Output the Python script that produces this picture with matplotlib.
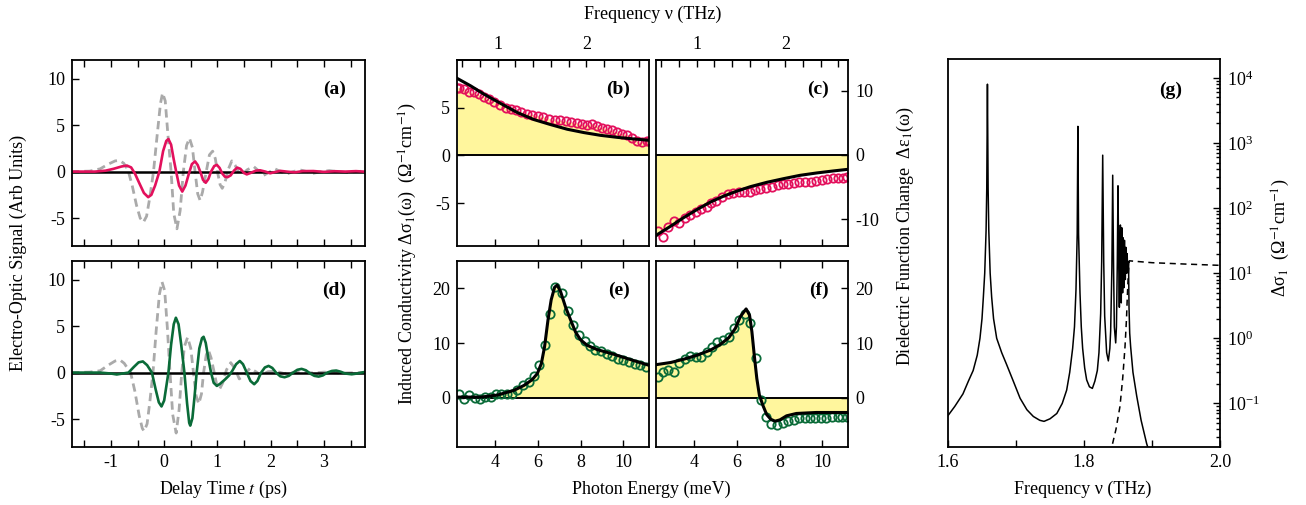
import numpy as np
import matplotlib
matplotlib.use('Agg')
import matplotlib.pyplot as plt
from matplotlib.ticker import MultipleLocator, FixedLocator, NullFormatter, LogLocator, LogFormatterMathtext

plt.rcParams['font.family'] = ['Liberation Serif', 'DejaVu Serif']
plt.rcParams['mathtext.fontset'] = 'stix'
plt.rcParams['axes.unicode_minus'] = False
plt.rcParams['font.size'] = 13

# ---- (a) time traces, panel a
t_a_red = [-1.75, -1.3, -1.1, -0.95, -0.8, -0.7, -0.62, -0.55, -0.47, -0.38, -0.3, -0.24, -0.17, -0.09,
           -0.02, 0.04, 0.08, 0.13, 0.18, 0.225, 0.28, 0.34, 0.4, 0.46, 0.52, 0.58, 0.63, 0.69, 0.73, 0.78,
           0.83, 0.88, 0.94, 0.99, 1.04, 1.09, 1.14, 1.19, 1.25, 1.31, 1.37, 1.43, 1.5, 1.55, 1.62, 1.72,
           1.8, 1.9, 1.99, 2.08, 2.18, 2.3, 2.45, 2.6, 2.8, 3.0, 3.2, 3.4, 3.6, 3.75]
y_a_red = [0, 0.0, 0.1, 0.3, 0.55, 0.65, 0.45, -0.2, -1.2, -2.3, -2.75, -2.5, -1.5, 0.0,
           2.2, 3.3, 3.5, 2.9, 1.3, 0.0, -1.5, -2.15, -1.5, -0.3, 0.8, 1.1, 0.7, -0.2, -0.9, -1.2,
           -0.8, 0.0, 0.6, 0.72, 0.4, -0.2, -0.55, -0.6, -0.4, 0.1, 0.43, 0.3, -0.15, -0.3, -0.15, 0.1,
           0.14, 0.0, -0.18, -0.05, 0.08, 0.0, -0.08, 0.05, 0.06, -0.03, 0.04, 0.0, 0.05, 0.0]

t_a_ref = [-1.75, -1.4, -1.2, -1.05, -0.92, -0.84, -0.76, -0.68, -0.6, -0.52, -0.45, -0.39, -0.33, -0.27,
           -0.2, -0.13, -0.07, -0.03, 0.02, 0.07, 0.13, 0.18, 0.24, 0.3, 0.36, 0.42, 0.475, 0.53, 0.58,
           0.63, 0.675, 0.72, 0.79, 0.85, 0.91, 0.96, 1.0, 1.05, 1.09, 1.14, 1.2, 1.27, 1.33, 1.4, 1.46,
           1.56, 1.68, 1.77, 1.86, 1.96, 2.08, 2.19, 2.3, 2.42, 2.55, 2.68, 2.8, 2.95, 3.1, 3.25, 3.43,
           3.6, 3.75]
y_a_ref = [0, 0.05, 0.3, 0.8, 1.15, 1.2, 0.9, 0.2, -1.5, -3.6, -5.0, -5.45, -4.8, -2.8,
           0.0, 4.0, 7.3, 8.45, 7.6, 4.0, 0.0, -4.5, -6.15, -4.2, 0.0, 2.8, 3.6, 2.6, 0.0,
           -2.4, -3.1, -2.2, 0.0, 1.8, 2.2, 1.4, 0.0, -1.4, -1.8, -1.2, 0.2, 1.15, 0.7, -0.1, -0.3,
           0.2, 0.54, 0.1, -0.43, -0.1, 0.29, 0.0, -0.25, 0.0, 0.18, 0.0, -0.18, 0.0, 0.11, 0.0, -0.1,
           0.0, 0.05]

# ---- (d) time traces
t_d_grn = [-1.75, -1.2, -1.0, -0.89, -0.78, -0.67, -0.57, -0.48, -0.4, -0.32, -0.23, -0.16, -0.1, -0.05,
           0.0, 0.04, 0.08, 0.13, 0.18, 0.22, 0.27, 0.32, 0.38, 0.43, 0.47, 0.49, 0.53, 0.57, 0.61, 0.66,
           0.71, 0.74, 0.78, 0.83, 0.88, 0.93, 0.99, 1.05, 1.14, 1.22, 1.28, 1.35, 1.42, 1.48, 1.55, 1.62,
           1.69, 1.75, 1.82, 1.89, 1.96, 2.03, 2.1, 2.18, 2.26, 2.34, 2.42, 2.5, 2.58, 2.66, 2.74, 2.82,
           2.9, 2.98, 3.06, 3.15, 3.23, 3.31, 3.4, 3.52, 3.62, 3.7, 3.75]
y_d_grn = [0, 0.0, -0.1, -0.2, -0.1, 0.0, 0.6, 1.1, 1.2, 0.8, 0.0, -1.8, -3.2, -3.64,
           -3.0, -1.5, 0.0, 3.0, 5.2, 5.9, 5.2, 3.0, 0.0, -3.3, -5.4, -5.7, -4.9, -2.6, 0.0, 2.6,
           3.7, 3.85, 3.2, 1.5, 0.0, -1.1, -1.43, -1.2, -0.75, -0.3, 0.2, 0.9, 1.25, 0.9, 0.0, -0.9,
           -1.25, -0.9, 0.0, 0.55, 0.72, 0.5, 0.0, -0.4, -0.5, -0.35, 0.0, 0.3, 0.4, 0.25, -0.1, -0.35,
           -0.43, -0.3, 0.0, 0.18, 0.22, 0.1, -0.1, -0.18, -0.1, 0.0, 0.05]

t_d_ref = [-1.75, -1.4, -1.2, -1.05, -0.92, -0.83, -0.75, -0.68, -0.63, -0.55, -0.47, -0.41, -0.375,
           -0.32, -0.27, -0.21, -0.15, -0.09, -0.04, 0.01, 0.06, 0.11, 0.16, 0.225, 0.28, 0.33, 0.38,
           0.44, 0.5, 0.55, 0.6, 0.65, 0.7, 0.74, 0.79, 0.83, 0.88, 0.94, 0.99, 1.04, 1.1, 1.17, 1.25,
           1.33, 1.41, 1.5, 1.61, 1.72, 1.82, 1.95, 2.1, 2.25, 2.4, 2.6, 2.8, 3.0, 3.3, 3.75]
y_d_ref = [0, 0.05, 0.2, 0.8, 1.25, 1.36, 1.0, 0.4, 0.0, -2.0, -4.6, -6.0, -6.3,
           -5.5, -3.2, 0.0, 4.5, 8.4, 9.75, 8.8, 4.8, 0.0, -4.5, -6.5, -4.0, 0.0, 2.8,
           3.8, 2.6, 0.0, -2.5, -3.36, -2.3, 0.0, 1.9, 2.43, 1.6, 0.0, -1.4, -1.78, -1.1, 0.3, 1.07,
           0.4, -0.68, -0.3, 0.47, 0.1, -0.3, 0.1, 0.15, -0.1, 0.0, 0.1, -0.05, 0.05, -0.05, 0.0]

# ---- (b) conductivity, photon energy in meV
E_b_fit = [2.24, 2.86, 3.49, 4.27, 5.05, 5.83, 6.6, 7.38, 8.16, 8.94, 9.72, 10.5, 11.2]
s_b_fit = [8.07, 7.3, 6.42, 5.44, 4.49, 3.75, 3.23, 2.74, 2.39, 2.1, 1.89, 1.72, 1.58]
E_b_dat = [2.24, 2.31, 2.55, 2.78, 3.02, 3.25, 3.49, 3.72, 3.96, 4.24, 4.5, 4.74, 5.0, 5.24, 5.48, 5.75,
           6.01, 6.26, 6.52, 6.79, 7.04, 7.3, 7.54, 7.82, 8.08, 8.32, 8.55, 8.78, 9.02, 9.25, 9.48,
           9.72, 9.95, 10.19, 10.42, 10.65, 10.89, 11.12, 11.2]
s_b_dat = [7.1, 7.09, 6.95, 6.67, 6.6, 6.39, 6.14, 5.9, 5.61, 5.33, 4.98, 4.84, 4.74, 4.56, 4.39, 4.28,
           4.14, 4.04, 3.86, 3.68, 3.68, 3.58, 3.51, 3.4, 3.26, 3.23, 3.33, 3.09, 2.91, 2.81, 2.63,
           2.46, 2.28, 2.18, 1.82, 1.47, 1.4, 1.47, 1.47]

# ---- (c) dielectric change
E_c_fit = [2.23, 2.3, 2.92, 3.54, 4.16, 4.78, 5.4, 6.02, 6.64, 7.41, 8.19, 8.96, 9.74, 10.51, 11.21]
e_c_fit = [-12.6, -12.4, -11.1, -9.74, -8.49, -7.34, -6.41, -5.63, -4.95, -4.27, -3.7, -3.18, -2.81, -2.5, -2.24]
E_c_dat = [2.33, 2.57, 2.79, 3.07, 3.3, 3.57, 3.81, 4.08, 4.31, 4.59, 4.81, 5.05, 5.32, 5.58, 5.83, 6.09,
           6.36, 6.61, 6.87, 7.1, 7.38, 7.64, 7.91, 8.16, 8.42, 8.68, 8.93, 9.19, 9.46, 9.71, 9.97,
           10.2, 10.48, 10.74, 10.97, 11.16]
e_c_dat = [-11.8, -12.8, -11.3, -10.3, -10.6, -9.9, -9.4, -8.86, -8.44, -8.07, -7.45, -7.14, -6.6, -6.1,
           -5.9, -5.73, -5.83, -5.73, -5.47, -5.36, -5.1, -4.95, -4.74, -4.58, -4.53, -4.43, -4.27, -4.17,
           -4.17, -4.06, -3.91, -3.8, -3.65, -3.65, -3.65, -3.49]

# ---- (e) conductivity, second pump
E_e_fit = [2.23, 2.27, 3.33, 4.11, 4.89, 5.36, 5.74, 5.98, 6.17, 6.32, 6.48, 6.63, 6.79, 6.91, 7.07, 7.3,
           7.54, 7.77, 8.0, 8.31, 8.78, 9.56, 10.34, 11.2]
s_e_fit = [0.12, 0.12, 0.12, 0.49, 1.35, 2.26, 3.3, 4.4, 6.24, 9.3, 14.2, 17.9, 20.2, 20.6, 19.4, 16.6,
           14.2, 12.0, 10.6, 9.6, 8.8, 7.95, 6.97, 5.93]
E_e_dat = [2.32, 2.55, 2.79, 3.05, 3.3, 3.56, 3.8, 4.03, 4.3, 4.55, 4.81, 5.04, 5.32, 5.59, 5.82, 6.06,
           6.32, 6.57, 6.83, 7.15, 7.41, 7.66, 7.93, 8.19, 8.44, 8.7, 8.94, 9.22, 9.48, 9.75, 10.0,
           10.26, 10.53, 10.78, 11.04]
s_e_dat = [0.73, -0.3, 0.43, -0.06, -0.3, 0.12, 0.12, 0.6, 0.6, 0.73, 0.6, 1.47, 2.26, 2.87, 3.91, 5.93,
           9.72, 15.4, 20.2, 19.2, 15.9, 13.3, 11.4, 10.4, 9.42, 8.81, 8.56, 8.07, 7.58, 7.16, 6.85,
           6.54, 6.12, 5.93, 5.63]

# ---- (f) dielectric change, second pump
E_f_fit = [2.23, 2.3, 2.92, 3.54, 4.16, 4.78, 5.24, 5.63, 5.94, 6.17, 6.44, 6.6, 6.71, 6.82, 6.94, 7.06,
           7.22, 7.4, 7.59, 7.79, 8.02, 8.33, 8.79, 9.72, 11.2]
e_f_fit = [6.05, 6.09, 6.45, 7.06, 7.8, 8.72, 9.76, 10.98, 12.7, 14.83, 16.24, 15.1, 12.08, 7.8, 3.52,
           0.49, -1.35, -3.06, -3.92, -4.28, -4.04, -3.3, -2.87, -2.69, -2.69]
E_f_dat = [2.33, 2.58, 2.8, 3.05, 3.31, 3.57, 3.82, 4.08, 4.31, 4.59, 4.85, 5.08, 5.36, 5.62, 5.86, 6.13,
           6.4, 6.63, 6.91, 7.12, 7.37, 7.59, 7.86, 8.14, 8.4, 8.66, 8.91, 9.17, 9.43, 9.68, 9.94,
           10.17, 10.45, 10.71, 10.94, 11.17]
e_f_dat = [3.82, 4.62, 4.99, 4.74, 6.27, 7.06, 7.68, 7.43, 7.49, 8.29, 9.2, 10.12, 10.55, 11.16, 12.69,
           14.2, 15.3, 13.6, 7.19, -0.43, -3.49, -4.71, -4.89, -4.53, -4.22, -4.1, -3.79, -3.79, -3.79,
           -3.67, -3.67, -3.67, -3.49, -3.49, -3.49, -3.49]

# ---- (g) model spectrum, log scale
nu_g = [1.6, 1.61, 1.622, 1.63, 1.637, 1.643, 1.647, 1.65, 1.652, 1.654, 1.656, 1.657, 1.658, 1.659,
        1.66, 1.662, 1.6642, 1.667, 1.6716, 1.679, 1.686, 1.696, 1.706, 1.716, 1.7255, 1.735, 1.7412,
        1.75, 1.76, 1.768, 1.7745, 1.779, 1.7833, 1.786, 1.7882, 1.79, 1.791, 1.792, 1.7941, 1.796,
        1.798, 1.801, 1.8039, 1.808, 1.8123, 1.816, 1.8196, 1.822, 1.8245, 1.826, 1.8275, 1.829,
        1.8304, 1.8333, 1.8358, 1.838, 1.8392, 1.841, 1.8422, 1.8435, 1.8446, 1.8466, 1.8477, 1.849,
        1.85, 1.851, 1.852, 1.8525, 1.8535, 1.854, 1.8548, 1.8555, 1.856, 1.8568, 1.8575, 1.858,
        1.8588, 1.8595, 1.86, 1.8608, 1.8615, 1.862, 1.8628, 1.8635, 1.864, 1.8648, 1.8655, 1.8662,
        1.8672, 1.8686, 1.872, 1.8775, 1.884, 1.8922, 1.896]
sig_g = [0.065, 0.09, 0.14, 0.22, 0.32, 0.55, 1.0, 2.0, 4.3, 10, 45, 200, 8000, 200,
         45, 10, 4.3, 2.0, 1.0, 0.6, 0.4, 0.22, 0.12, 0.08, 0.063, 0.055, 0.053,
         0.058, 0.07, 0.1, 0.16, 0.3, 0.7, 1.5, 5.5, 40, 1800, 40, 5, 1.5,
         0.7, 0.35, 0.23, 0.18, 0.17, 0.22, 0.32, 0.6, 2.4, 15, 650, 15,
         2.2, 0.6, 0.45, 0.7, 1.3, 12, 320, 12, 1.5, 0.85, 1.5, 15,
         220, 15, 3, 8, 55, 10, 3.5, 50, 10, 5, 35, 9,
         6, 32, 10, 8, 25, 12, 10, 20, 12, 11, 15, 3.0,
         1.2, 0.74, 0.3, 0.13, 0.055, 0.024, 0.018]
nu_g_dash = [1.842, 1.847, 1.8529, 1.857, 1.8603, 1.8625, 1.8637, 1.8652, 1.8665, 1.9, 1.95, 2.0]
sig_g_dash = [0.024, 0.04, 0.09, 0.25, 0.74, 2.0, 4.4, 10, 15.5, 14.5, 13.8, 13.2]

red = '#e3105c'
green = '#0a6b38'
gray = '#aaaaaa'
yellow = '#fff69d'

W, H = 1306, 505
fig = plt.figure(figsize=(W / 100, H / 100), dpi=100)


def box(l, t, r, b):
    return [l / W, 1 - b / H, (r - l) / W, (b - t) / H]


def style(ax):
    for s in ax.spines.values():
        s.set_linewidth(1.3)
    ax.tick_params(which='both', direction='in', width=1.0, labelsize=13, pad=5)
    ax.tick_params(which='major', length=5)
    ax.tick_params(which='minor', length=5)


# time panels
for box_, t1, y1, c1, tr, yr, lab, show_x in [
        (box(72, 60, 365, 246), t_a_red, y_a_red, red, t_a_ref, y_a_ref, '(a)', False),
        (box(72, 261, 365, 447), t_d_grn, y_d_grn, green, t_d_ref, y_d_ref, '(d)', True)]:
    ax = fig.add_axes(box_)
    style(ax)
    ax.plot(tr, yr, color=gray, lw=2, ls=(0, (3, 1.8)))
    ax.axhline(0, color='black', lw=1.8)
    ax.plot(t1, y1, color=c1, lw=1.9)
    ax.set_xlim(-1.73, 3.77)
    ax.set_ylim(-8, 12)
    ax.xaxis.set_major_locator(MultipleLocator(1))
    ax.xaxis.set_minor_locator(MultipleLocator(0.5))
    ax.yaxis.set_major_locator(MultipleLocator(5))
    ax.tick_params(which='both', top=True, right=False)
    if not show_x:
        ax.tick_params(labelbottom=False)
    ax.text(0.935, 0.84, lab, transform=ax.transAxes, ha='right', va='center',
            fontsize=14, fontweight='bold')


def to_thz(e):
    return np.asarray(e) / 4.1357


def to_mev(f):
    return np.asarray(f) * 4.1357


spec = [
    (box(457, 60, 649, 246), E_b_fit, s_b_fit, E_b_dat, s_b_dat, red, '(b)', 'left', (-9.5, 10), [-5, 0, 5], 'data', True),
    (box(656, 60, 848, 246), E_c_fit, e_c_fit, E_c_dat, e_c_dat, red, '(c)', 'right', (-14.2, 14.8), [-10, 0, 10], 'fit', True),
    (box(457, 261, 649, 447), E_e_fit, s_e_fit, E_e_dat, s_e_dat, green, '(e)', 'left', (-9, 25), [0, 10, 20], 'fit', False),
    (box(656, 261, 848, 447), E_f_fit, e_f_fit, E_f_dat, e_f_dat, green, '(f)', 'right', (-9, 25), [0, 10, 20], 'fit', False),
]
for box_, ef, yf, ed, yd, col, lab, side, ylim, yt, fill_with, top_thz in spec:
    ax = fig.add_axes(box_)
    style(ax)
    if fill_with == 'data':
        ax.fill_between(ed, 0, yd, color=yellow, lw=0)
    else:
        ax.fill_between(ef, 0, yf, color=yellow, lw=0)
    ax.axhline(0, color='black', lw=1.4)
    ax.plot(ed, yd, 'o', mfc='none', mec=col, ms=6, mew=1.3)
    ax.plot(ef, yf, color='black', lw=2.2)
    ax.set_xlim(2.23, 11.2)
    ax.set_ylim(*ylim)
    ax.xaxis.set_major_locator(MultipleLocator(2))
    ax.yaxis.set_major_locator(FixedLocator(yt))
    if side == 'left':
        ax.tick_params(left=True, right=False, labelleft=True, labelright=False)
    else:
        ax.tick_params(left=False, right=True, labelleft=False, labelright=True)
    if top_thz:
        ax.tick_params(bottom=True, top=False, labelbottom=False)
        sec = ax.secondary_xaxis('top', functions=(to_thz, to_mev))
        sec.xaxis.set_major_locator(MultipleLocator(1))
        sec.xaxis.set_minor_locator(MultipleLocator(0.2))
        sec.tick_params(which='both', direction='in', length=5, width=1.0, labelsize=13, pad=5)
        sec.spines['top'].set_linewidth(1.3)
    else:
        ax.tick_params(bottom=True, top=True, labelbottom=True)
    ax.text(0.90, 0.84, lab, transform=ax.transAxes, ha='right', va='center',
            fontsize=14, fontweight='bold')

# (g) log panel
ax = fig.add_axes(box(948, 59, 1220, 447))
style(ax)
ax.plot(nu_g, sig_g, color='black', lw=1.1)
ax.plot(nu_g_dash, sig_g_dash, color='black', lw=1.1, ls=(0, (4, 3)))
ax.set_yscale('log')
ax.set_xlim(1.6, 2.0)
ax.set_ylim(0.0214, 19500)
ax.xaxis.set_major_locator(MultipleLocator(0.2))
ax.xaxis.set_minor_locator(MultipleLocator(0.1))
ax.xaxis.set_major_formatter(matplotlib.ticker.FormatStrFormatter('%.1f'))
ax.yaxis.set_major_locator(LogLocator(base=10, numticks=12))
ax.yaxis.set_minor_locator(LogLocator(base=10, subs=np.arange(2, 10), numticks=12))
ax.yaxis.set_major_formatter(LogFormatterMathtext())
ax.yaxis.set_minor_formatter(NullFormatter())
ax.tick_params(which='both', left=False, right=True, labelleft=False, labelright=True, top=False)
ax.tick_params(which='minor', length=3)
ax.tick_params(axis='x', which='minor', length=5)
ax.text(0.86, 0.92, '(g)', transform=ax.transAxes, ha='right', va='center',
        fontsize=14, fontweight='bold')

# figure-level labels
fig.text(18 / W, 1 - 253 / H, 'Electro-Optic Signal (Arb Units)', rotation=90, ha='center', va='center')
fig.text(223 / W, 1 - 489 / H, 'Delay Time $t$ (ps)', ha='center', va='center')
fig.text(653 / W, 1 - 14 / H, 'Frequency ν (THz)', ha='center', va='center')
fig.text(651 / W, 1 - 489 / H, 'Photon Energy (meV)', ha='center', va='center')
fig.text(408 / W, 1 - 253 / H, 'Induced Conductivity Δσ$_1$(ω)  (Ω$^{-1}$cm$^{-1}$)',
         rotation=90, ha='center', va='center')
fig.text(905 / W, 1 - 236 / H, 'Dielectric Function Change  Δε$_1$(ω)',
         rotation=90, ha='center', va='center')
fig.text(1083 / W, 1 - 489 / H, 'Frequency ν (THz)', ha='center', va='center')
fig.text(1281 / W, 1 - 238 / H, 'Δσ$_1$  (Ω$^{-1}$cm$^{-1}$)', rotation=90,
         ha='center', va='center')

fig.savefig('out.png', dpi=100)
